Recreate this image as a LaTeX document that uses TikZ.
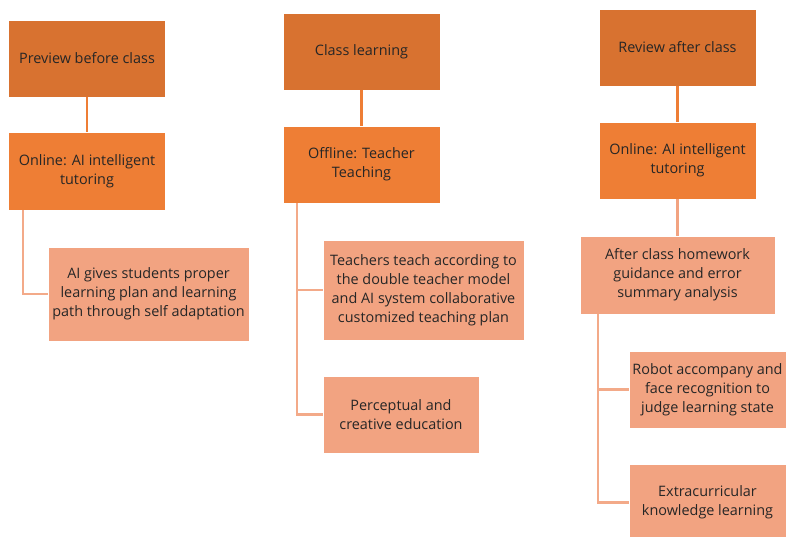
\documentclass[tikz,border=0pt]{standalone}
\usepackage{fontspec}
\setmainfont{Open Sans}
\usepackage{tikz}

\definecolor{hdorange}{HTML}{D87230}
\definecolor{midorange}{HTML}{EE7E35}
\definecolor{lightorange}{HTML}{F2A381}
\definecolor{paleline}{HTML}{F3AA89}

\tikzset{
  box/.style={rectangle, draw=white, line width=0.6pt, align=center,
    font=\fontsize{14.4}{19}\selectfont, text=black!85,
    minimum width=157, minimum height=77, inner sep=1pt},
  headbox/.style={box, fill=hdorange},
  midbox/.style={box, fill=midorange},
  leafbox/.style={box, fill=lightorange},
  link/.style={line width=2.4pt, draw=midorange},
  sublink/.style={line width=2.4pt, draw=lightorange},
  branch/.style={line width=2.4pt, draw=paleline},
}

\begin{document}
\begin{tikzpicture}[x=1pt, y=-1pt]
  \useasboundingbox (0,0) rectangle (786,537);

  % before class
  \node[headbox] (pre) at (87,58.5) {Preview before class};
  \node[midbox, minimum height=78] (on1) at (87,171) {Online: AI intelligent\\tutoring};
  \node[leafbox, minimum width=201, minimum height=94] (ai) at (148.5,294)
    {AI gives students proper\\learning plan and learning\\path through self adaptation};
  \draw[link] (pre.south) -- (on1.north);
  \draw[branch] (on1.south west) ++(15,0) |- (ai.west);

  % in class
  \node[headbox] (cls) at (361.5,51.5) {Class learning};
  \node[midbox] (off) at (361.5,164.5) {Offline: Teacher\\Teaching};
  \node[leafbox, minimum width=201, minimum height=100] (tea) at (423.5,290)
    {Teachers teach according to\\the double teacher model\\and AI system collaborative\\customized teaching plan};
  \node[leafbox, minimum width=156] (per) at (401,414.5) {Perceptual and\\creative education};
  \draw[link] (cls.south) -- (off.north);
  \draw[branch] (off.south west) ++(14,0) |- (per.west);
  \draw[branch] (off.south west) ++(14,0) |- (tea.west);

  % after class
  \node[headbox] (rev) at (677.5,47.5) {Review after class};
  \node[midbox] (on3) at (677.5,160.5) {Online: AI intelligent\\tutoring};
  \node[leafbox, minimum width=195, minimum height=78] (aft) at (677.5,275)
    {After class homework\\guidance and error\\summary analysis};
  \node[leafbox] (rob) at (707.5,389.5)
    {Robot accompany and\\face recognition to\\judge learning state};
  \node[leafbox] (ext) at (707.5,502.5) {Extracurricular\\knowledge learning};
  \draw[link] (rev.south) -- (on3.north);
  \draw[sublink] (on3.south) -- (aft.north);
  \draw[branch] (aft.south west) ++(18,0) |- (ext.west);
  \draw[branch] (aft.south west) ++(18,0) |- (rob.west);
\end{tikzpicture}
\end{document}
